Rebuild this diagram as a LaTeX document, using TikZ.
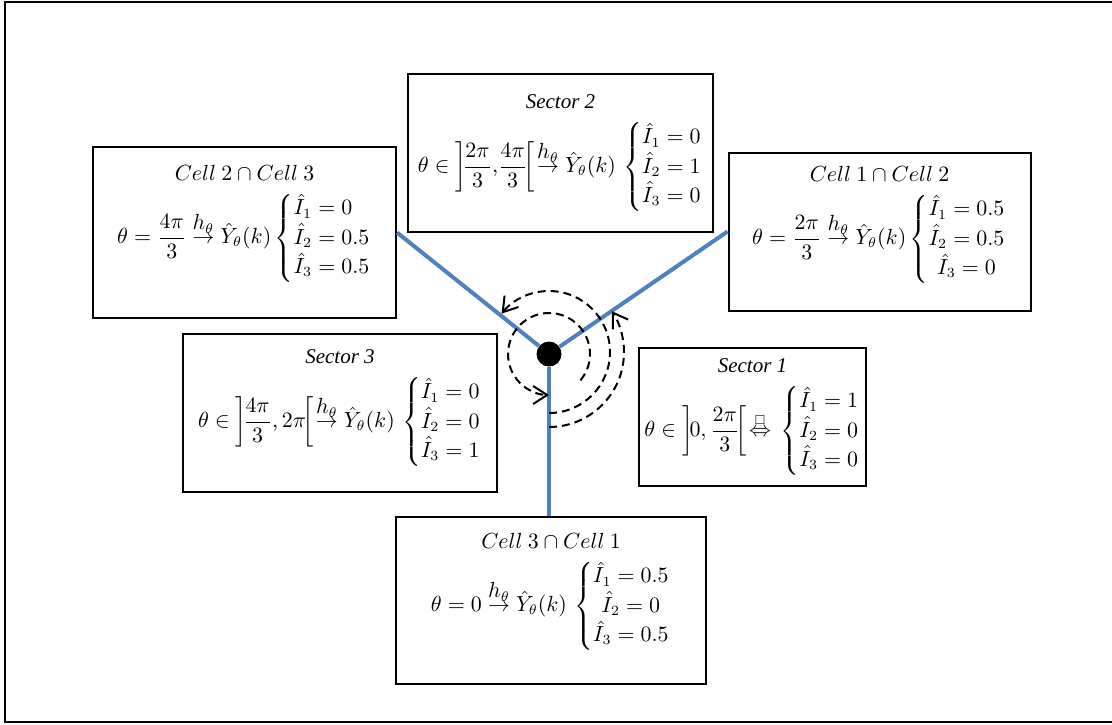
\documentclass[tikz,border=0pt]{standalone}
\usepackage{amsmath,amssymb}
\usepackage{fontspec}
\setmainfont{Liberation Serif}
\usetikzlibrary{arrows.meta}
\definecolor{edgeBlue}{RGB}{79,129,189}
\newcommand{\hmap}{\mathrel{\overset{\textstyle h_\theta}{\rightarrow}}}
\newcommand{\icases}[2][l]{\left\{\renewcommand{\arraystretch}{1.2}%
  \begin{array}{@{}#1@{}}#2\end{array}\right.}

\begin{document}
\begin{tikzpicture}[x=0.5pt,y=-0.5pt,
    infobox/.style={draw, line width=1pt, align=center, inner sep=0pt,
      font=\fontsize{10.5}{12}\selectfont},
    edge/.style={draw=edgeBlue, line width=2pt},
    turn/.style={dashed, dash pattern=on 4pt off 2.5pt, line width=1pt,
      -{Straight Barb[length=7pt,width=9pt]}},
  ]
    \useasboundingbox (0,0) rectangle (1112,724);
    \draw[line width=1.2pt] (5,2) rectangle (1125,722);

    % boxes
    \node[infobox, minimum width=151.5pt, minimum height=85.5pt] (c23) at (244.5,232.5)
      {$Cell\ 2\cap Cell\ 3$\\[6pt]
       $\theta=\dfrac{4\pi}{3}\hmap\hat{Y}_\theta(k)
        \icases{\hat{I}_1=0\\ \hat{I}_2=0.5\\ \hat{I}_3=0.5}$\\[8pt]};
    \node[infobox, minimum width=152.5pt, minimum height=79pt] (s2) at (560.5,153)
      {\textit{Sector 2}\\[6pt]
       $\theta\in\left]\!\dfrac{2\pi}{3},\!\dfrac{4\pi}{3}\!\right[\!\hmap\hat{Y}_\theta(k)\,
        \icases{\hat{I}_1=0\\ \hat{I}_2=1\\ \hat{I}_3=0}$};
    \node[infobox, minimum width=151pt, minimum height=79pt] (c12) at (879.5,231.5)
      {$Cell\ 1\cap Cell\ 2$\\[6pt]
       $\theta=\dfrac{2\pi}{3}\hmap\hat{Y}_\theta(k)
        \icases[c]{\hat{I}_1=0.5\\ \hat{I}_2=0.5\\ \hat{I}_3=0}$\\[6pt]};
    \node[infobox, minimum width=157pt, minimum height=79pt] (s3) at (340,413)
      {\textit{Sector 3}\\[6pt]
       $\theta\in\left]\!\dfrac{4\pi}{3},2\pi\!\right[\!\hmap\hat{Y}_\theta(k)\,
        \icases{\hat{I}_1=0\\ \hat{I}_2=0\\ \hat{I}_3=1}$\\[4pt]};
    \node[infobox, minimum width=113.5pt, minimum height=69pt] (s1) at (752.5,417)
      {\textit{Sector 1}\\[6pt]
       $\theta\in\left]\!0,\dfrac{2\pi}{3}\!\right[\!\overset{\scriptscriptstyle\square}{\Leftrightarrow}\,
        \icases{\hat{I}_1=1\\ \hat{I}_2=0\\ \hat{I}_3=0}$};
    \node[infobox, minimum width=155pt, minimum height=83.5pt] (c31) at (551,600.5)
      {$Cell\ 3\cap Cell\ 1$\\[6pt]
       $\theta=0\hmap\hat{Y}_\theta(k)\,
        \icases[c]{\hat{I}_1=0.5\\ \hat{I}_2=0\\ \hat{I}_3=0.5}$\\[8pt]};

    % borders between cells
    \node[circle, fill, minimum size=12.5pt, inner sep=0pt] (hub) at (549,354) {};
    \draw[edge] (hub) -- (c23.east);
    \draw[edge] (hub) -- (c12.west);
    \draw[edge] (hub) -- (hub |- c31.north);

    % turning angle
    \draw[turn] (hub.center) ++(40:41) arc[start angle=40, end angle=-270, radius=41];
    \draw[turn] (hub.center) ++(90:59) arc[start angle=90, end angle=-141, radius=61];
    \draw[turn] (hub.center) ++(90:73) arc[start angle=90, end angle=-33, radius=75];
\end{tikzpicture}
\end{document}
